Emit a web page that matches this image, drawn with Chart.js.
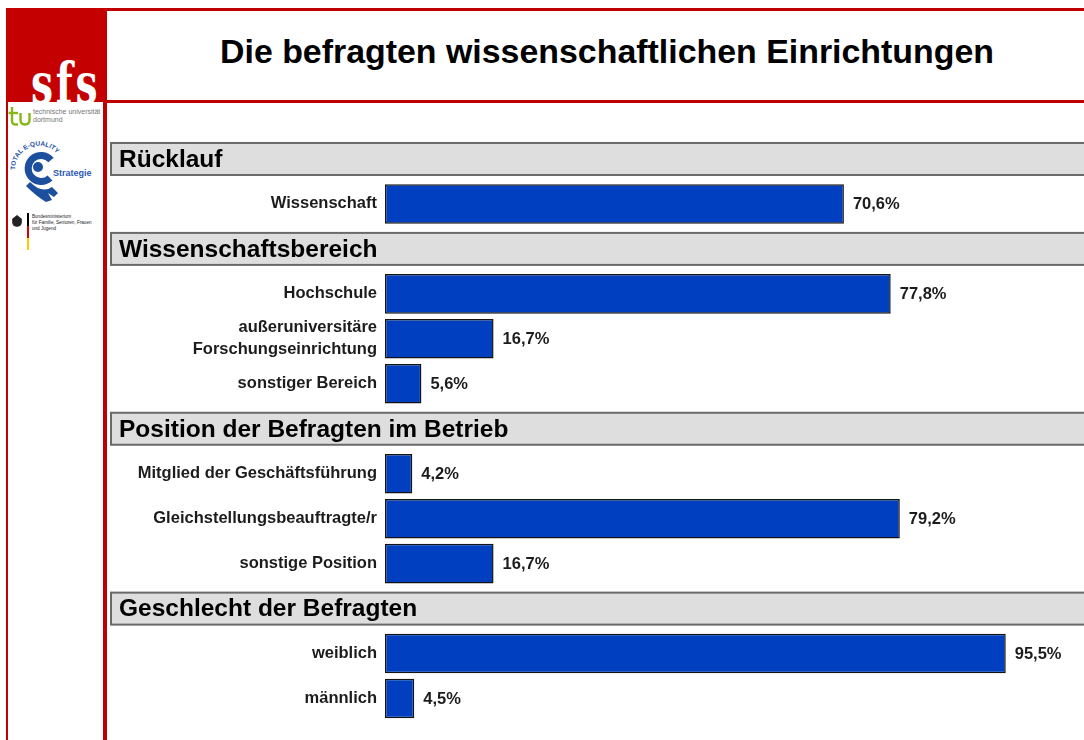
<!DOCTYPE html>
<html><head><meta charset="utf-8">
<script src="https://cdn.jsdelivr.net/npm/chart.js@4.4.1/dist/chart.umd.min.js"></script>
<style>
html,body{margin:0;padding:0;background:#fff;width:1084px;height:740px;overflow:hidden;font-family:'Liberation Sans',Arial,sans-serif;}
.abs{position:absolute;}
#topline{left:6px;top:8px;width:1078px;height:2.5px;background:#c00000;}
#redbox{left:6px;top:8px;width:101px;height:94px;background:#c40000;overflow:hidden;}
#sfs{left:25px;top:47px;width:120px;color:#fff;font:bold 56px/56px 'DejaVu Serif',serif;transform:scaleX(0.7);transform-origin:0 0;letter-spacing:4px;white-space:nowrap;}
#titleline{left:107px;top:100px;width:977px;height:2.5px;background:#c00000;}
#side{left:6px;top:102px;width:101px;height:640px;border-left:2.5px solid #c00000;border-right:4px solid #c00000;background:#fff;box-sizing:border-box;}
#title{left:107px;top:35.4px;width:1000px;text-align:center;font:bold 33.9px/33.9px 'Liberation Sans',Arial,sans-serif;color:#000;white-space:nowrap;}
#chartwrap{left:107px;top:102px;width:977px;height:638px;}
</style></head>
<body>
<div id="topline" class="abs"></div>
<div id="redbox" class="abs"><div id="sfs" class="abs">sfs</div></div>
<div id="titleline" class="abs"></div>
<div id="side" class="abs"></div>
<div id="title" class="abs">Die befragten wissenschaftlichen Einrichtungen</div>
<svg class="abs" style="left:8px;top:102px" width="95" height="160" xmlns="http://www.w3.org/2000/svg">
  <!-- tu dortmund -->
  <g fill="none" stroke="#84b819" stroke-width="2.4" stroke-linecap="butt">
    <path d="M4 5 V19 Q4 22.5 8 22.5 H10"/>
    <path d="M0.5 11 H10"/>
    <path d="M12.5 11 V18 Q12.5 22.5 17 22.5 Q21.5 22.5 21.5 18 V11"/>
  </g>
  <text x="25" y="12" font-family="Liberation Sans, Arial" font-size="7" fill="#777">technische universität</text>
  <text x="25" y="20" font-family="Liberation Sans, Arial" font-size="7" fill="#777">dortmund</text>
  <!-- Total E-Quality -->
  <defs><path id="arc" d="M7 68 A24 24 0 0 1 52 56"/></defs>
  <text font-family="Liberation Sans, Arial" font-size="6.5" font-weight="bold" fill="#1d4f9f"><textPath href="#arc">TOTAL E-QUALITY</textPath></text>
  <path d="M43 58 A13 13 0 1 0 42 76" fill="none" stroke="#1d4f9f" stroke-width="7"/>
  <circle cx="30" cy="65" r="5" fill="#1d4f9f"/>
  <path d="M22 80 Q34 92 44 85 L50 91 L46 95 L40 91 L44 98 L38 100 Q28 94 18 84 Z" fill="#1d4f9f"/>
  <text x="45" y="74" font-family="Liberation Sans, Arial" font-size="9" font-weight="bold" fill="#2b59b5">Strategie</text>
  <!-- Bundesministerium -->
  <circle cx="9" cy="120" r="5" fill="#444"/>
  <path d="M4 117 L9 113 L14 117 L12 124 L6 124 Z" fill="#222"/>
  <rect x="19" y="111" width="2" height="13" fill="#000"/>
  <rect x="19" y="124" width="2" height="12" fill="#dd0000"/>
  <rect x="19" y="136" width="2" height="12" fill="#ffcc00"/>
  <text x="24" y="116" font-family="Liberation Sans, Arial" font-size="4.6" fill="#222">Bundesministerium</text>
  <text x="24" y="122" font-family="Liberation Sans, Arial" font-size="4.6" fill="#222">für Familie, Senioren, Frauen</text>
  <text x="24" y="128" font-family="Liberation Sans, Arial" font-size="4.6" fill="#222">und Jugend</text>
</svg>
<div id="chartwrap" class="abs"><canvas id="c" width="977" height="638"></canvas></div>
<script>
const sectionTitles = ['Rücklauf', 'Wissenschaftsbereich', 'Position der Befragten im Betrieb', 'Geschlecht der Befragten'];
const ruecklaufLabels = ['Wissenschaft'];
const ruecklaufValues = [70.6];
const bereichLabels = ['Hochschule', ['außeruniversitäre', 'Forschungseinrichtung'], 'sonstiger Bereich'];
const bereichValues = [77.8, 16.7, 5.6];
const positionLabels = ['Mitglied der Geschäftsführung', 'Gleichstellungsbeauftragte/r', 'sonstige Position'];
const positionValues = [4.2, 79.2, 16.7];
const geschlechtLabels = ['weiblich', 'männlich'];
const geschlechtValues = [95.5, 4.5];

const groups = [
  {title: sectionTitles[0], labels: ruecklaufLabels, values: ruecklaufValues},
  {title: sectionTitles[1], labels: bereichLabels, values: bereichValues},
  {title: sectionTitles[2], labels: positionLabels, values: positionValues},
  {title: sectionTitles[3], labels: geschlechtLabels, values: geschlechtValues}
];
const rowLabels = [], rowValues = [], headerRows = [];
groups.forEach(g => {
  headerRows.push({index: rowLabels.length, title: g.title});
  rowLabels.push('');
  rowValues.push(null);
  g.labels.forEach((l, i) => { rowLabels.push(l); rowValues.push(g.values[i]); });
});

const FONT = "'Liberation Sans', Arial, sans-serif";

const headerPlugin = {
  id: 'headers',
  beforeDatasetsDraw(chart) {
    const {ctx, scales: {y}} = chart;
    ctx.save();
    headerRows.forEach(h => {
      const cy = y.getPixelForValue(h.index);
      ctx.fillStyle = '#dedede';
      ctx.fillRect(4, cy - 16, chart.width, 32);
      ctx.strokeStyle = '#6a6a6a';
      ctx.lineWidth = 2;
      ctx.strokeRect(4, cy - 16, chart.width + 10, 32);
      ctx.fillStyle = '#000';
      ctx.font = 'bold 24.5px ' + FONT;
      ctx.textBaseline = 'middle';
      ctx.textAlign = 'left';
      ctx.fillText(h.title, 12, cy + 1);
    });
    ctx.restore();
  }
};
const valuePlugin = {
  id: 'values',
  afterDatasetsDraw(chart) {
    const {ctx} = chart;
    const meta = chart.getDatasetMeta(0);
    ctx.save();
    ctx.fillStyle = '#1c1c1c';
    ctx.font = 'bold 16.5px ' + FONT;
    ctx.textBaseline = 'middle';
    ctx.textAlign = 'left';
    meta.data.forEach((bar, i) => {
      const v = rowValues[i];
      if (v == null) return;
      ctx.fillText(v.toFixed(1).replace('.', ',') + '%', bar.x + 9, bar.y + 1);
    });
    ctx.restore();
  }
};

new Chart(document.getElementById('c'), {
  type: 'bar',
  data: {
    labels: rowLabels,
    datasets: [{
      data: rowValues,
      backgroundColor: '#0040c0',
      borderColor: '#141414',
      borderWidth: 1.5,
      borderSkipped: false,
      barPercentage: 0.88,
      categoryPercentage: 1
    }]
  },
  options: {
    indexAxis: 'y',
    responsive: false,
    animation: false,
    layout: {padding: {top: 34.5, bottom: 17.5, left: 0, right: 49}},
    plugins: {legend: {display: false}, tooltip: {enabled: false}},
    scales: {
      x: {display: false, min: 0, max: 100},
      y: {
        grid: {display: false, drawTicks: false},
        border: {display: false},
        ticks: {
          autoSkip: false,
          color: '#1c1c1c',
          padding: 8,
          font: {family: FONT, size: 16.5, weight: 'bold', lineHeight: 1.33}
        },
        afterFit(s) { s.width = 278; }
      }
    }
  },
  plugins: [headerPlugin, valuePlugin]
});
</script>
</body></html>
